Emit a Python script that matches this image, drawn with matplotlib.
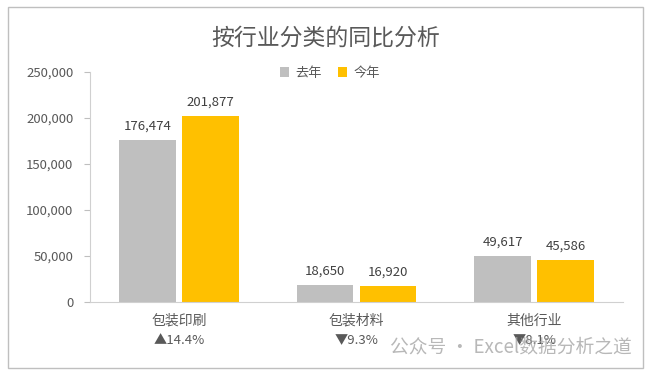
import matplotlib
matplotlib.use("Agg")
import matplotlib.pyplot as plt
from matplotlib.patches import Rectangle
from matplotlib.ticker import FuncFormatter
import numpy as np

plt.rcParams['font.family'] = ['Noto Sans CJK SC', 'DejaVu Sans']

categories = ['包装印刷', '包装材料', '其他行业']
last_year = [176474, 18650, 49617]
this_year = [201877, 16920, 45586]
series_names = ['去年', '今年']
changes = ['▲14.4%', '▼9.3%', '▼8.1%']
yticks = [0, 50000, 100000, 150000, 200000, 250000]

grey = '#BFBFBF'
gold = '#FFC000'
txt = '#595959'

fig = plt.figure(figsize=(6.51, 3.75), dpi=100)
fig.patches.append(Rectangle((8/651, 7/375), 635/651, 361/375, transform=fig.transFigure,
                             fill=False, edgecolor='#BFBFBF', linewidth=1))

ax = fig.add_axes([90/651, (375-302)/375, 533/651, 230/375])
x = np.arange(len(categories))
w = 0.32
gap = 0.034
b1 = ax.bar(x - (w+gap)/2, last_year, w, color=grey, label=series_names[0])
b2 = ax.bar(x + (w+gap)/2, this_year, w, color=gold, label=series_names[1])
for bars, vals in ((b1, last_year), (b2, this_year)):
    for r, v in zip(bars, vals):
        ax.text(r.get_x() + r.get_width()/2, v + 8000, f'{v:,}', ha='center', va='bottom',
                fontsize=9.5, color='#404040')

ax.set_xlim(-0.5, 2.5)
ax.set_ylim(0, 250000)
ax.set_yticks(yticks)
ax.yaxis.set_major_formatter(FuncFormatter(lambda v, p: f'{int(v):,}'))
ax.tick_params(axis='y', direction='out', length=4, color='#BFBFBF', labelsize=9.5,
               labelcolor=txt, pad=8)
ax.set_xticks(x)
ax.set_xticklabels([])
ax.tick_params(axis='x', length=0)
for i, (c, ch) in enumerate(zip(categories, changes)):
    ax.text(i, -12500, c, ha='center', va='top', fontsize=10, color=txt)
    ax.text(i, -35000, ch, ha='center', va='top', fontsize=9.5, color=txt)
for s in ['top', 'right']:
    ax.spines[s].set_visible(False)
ax.spines['left'].set_color('#D0D0D0')
ax.spines['bottom'].set_color('#D0D0D0')
ax.set_facecolor('none')

fig.text(326/651, 1 - 38/375, '按行业分类的同比分析', ha='center', va='center',
         fontsize=16.5, color=txt)
leg = fig.legend(loc='center', bbox_to_anchor=(330/651, 1 - 73/375), ncol=2, frameon=False,
                 fontsize=9.5, handlelength=0.7, handleheight=0.7, handletextpad=0.5,
                 columnspacing=1.2, labelcolor=txt)

fig.text(632/651, 1 - 347/375, '公众号 · Excel数据分析之道', ha='right', va='center',
         fontsize=13.5, color='#A0A0A0', alpha=0.75)

fig.savefig('out.png', dpi=100)
